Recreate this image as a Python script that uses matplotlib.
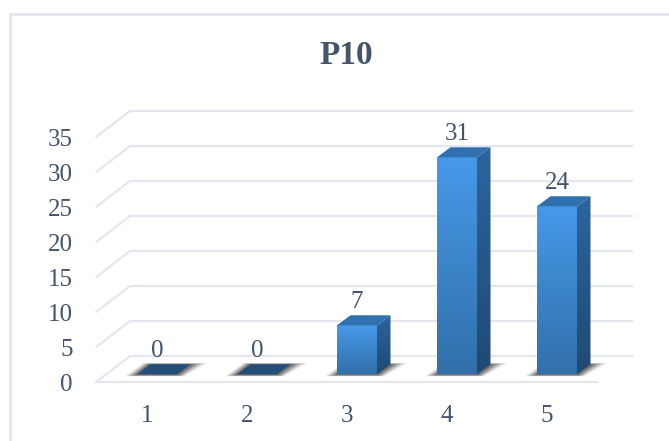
import numpy as np
import matplotlib
matplotlib.use("Agg")
import matplotlib.pyplot as plt
from matplotlib.colors import LinearSegmentedColormap
from matplotlib.patches import Polygon

categories = ["1", "2", "3", "4", "5"]
values = [0, 0, 7, 31, 24]
y_ticks = [0, 5, 10, 15, 20, 25, 30, 35]
title = "P10"

WIDTH, HEIGHT = 669, 441
TEXT = "#44546A"
GRID = "#E4E7EF"

# Pseudo-3D layout, in data units: one x unit per category, y in counts
BAR_HALF = 0.20
BAR_DX, BAR_DY = 0.135, 1.43
FLOOR_FRONT, FLOOR_BACK = -1.06, 2.61
LEFT_FRONT, LEFT_BACK = 0.395, 0.73
RIGHT_FRONT, RIGHT_BACK = 5.40, 5.75
XLIM = (-0.57, 6.12)
YLIM = (-9.53, 53.47)

plt.rcParams["font.family"] = ["Liberation Serif", "DejaVu Serif"]
fig = plt.figure(figsize=(WIDTH / 100, HEIGHT / 100), dpi=100, facecolor="white")
ax = fig.add_axes([0, 0, 1, 1])
ax.axis("off")


def gradient_face(points, top, bottom, z):
    """Fill a polygon with a vertical colour ramp."""
    xs, ys = zip(*points)
    cmap = LinearSegmentedColormap.from_list("ramp", [top, bottom])
    img = ax.imshow(np.linspace(0, 1, 128).reshape(-1, 1), cmap=cmap, aspect="auto",
                    extent=(min(xs), max(xs), min(ys), max(ys)), origin="upper", zorder=z)
    clip = Polygon(points, closed=True, transform=ax.transData, fc="none", ec="none")
    ax.add_patch(clip)
    img.set_clip_path(clip)


# Chart frame: only the left and top edges fall inside the canvas
ax.plot([-0.465, -0.465, XLIM[1]], [YLIM[0], 51.4, 51.4],
        color="#E2E6EF", lw=2.0, zorder=1, solid_joinstyle="miter")

# Wall gridlines with their receding side lines
for v in y_ticks:
    ax.plot([LEFT_FRONT, LEFT_BACK, RIGHT_BACK], [v + FLOOR_FRONT, v + FLOOR_BACK, v + FLOOR_BACK],
            color=GRID, lw=1.6, zorder=2, solid_joinstyle="round")
    ax.text(0.16, v - 2.39, str(v), ha="right", va="baseline",
            fontsize=18, color=TEXT, zorder=6)
ax.plot([LEFT_FRONT, RIGHT_FRONT], [FLOOR_FRONT, FLOOR_FRONT], color=GRID, lw=1.6, zorder=2)

for i, (cat, val) in enumerate(zip(categories, values)):
    x0, x1 = i + 1 - BAR_HALF, i + 1 + BAR_HALF

    # Soft floor shadow built from stacked translucent footprints
    for grow, alpha in zip((0.12, 0.10, 0.08, 0.06, 0.04, 0.02), (0.10, 0.14, 0.18, 0.24, 0.30, 0.36)):
        ax.add_patch(Polygon([(x0 - grow, -0.10 - grow * 1.5), (x1 + grow * 0.6, -0.10 - grow * 1.5),
                              (x1 + BAR_DX + grow * 1.4, BAR_DY + grow * 1.5),
                              (x0 + BAR_DX - grow * 0.6, BAR_DY + grow * 1.5)],
                             closed=True, fc="#4A4A4A", ec="none", alpha=alpha, zorder=3))

    if val == 0:
        # A zero-height bar shows only its flat cap
        ax.add_patch(Polygon([(x0, 0), (x1, 0), (x1 + BAR_DX, BAR_DY), (x0 + BAR_DX, BAR_DY)],
                             closed=True, fc="#234E78", ec="none", zorder=4))
    else:
        gradient_face([(x1, 0), (x1 + BAR_DX, BAR_DY), (x1 + BAR_DX, val + BAR_DY), (x1, val)],
                      "#2C659E", "#1F4A74", 4)
        gradient_face([(x0, 0), (x1, 0), (x1, val), (x0, val)], "#4699E8", "#3170AA", 4)
        ax.add_patch(Polygon([(x0, val), (x1, val), (x1 + BAR_DX, val + BAR_DY), (x0 + BAR_DX, val + BAR_DY)],
                             closed=True, fc="#3070AE", ec="none", zorder=4))

    ax.text(i + 1, val + 2.4, str(val), ha="center", va="baseline",
            fontsize=18, color=TEXT, zorder=6)
    ax.text(i + 0.9, -6.77, cat, ha="center", va="baseline", fontsize=18, color=TEXT, zorder=6)

ax.text(2.89, 44.3, title, ha="center", va="baseline",
        fontsize=24, fontweight="bold", color=TEXT, zorder=6)

ax.set_xlim(*XLIM)
ax.set_ylim(*YLIM)
fig.savefig("out.png", dpi=100, facecolor="white")
